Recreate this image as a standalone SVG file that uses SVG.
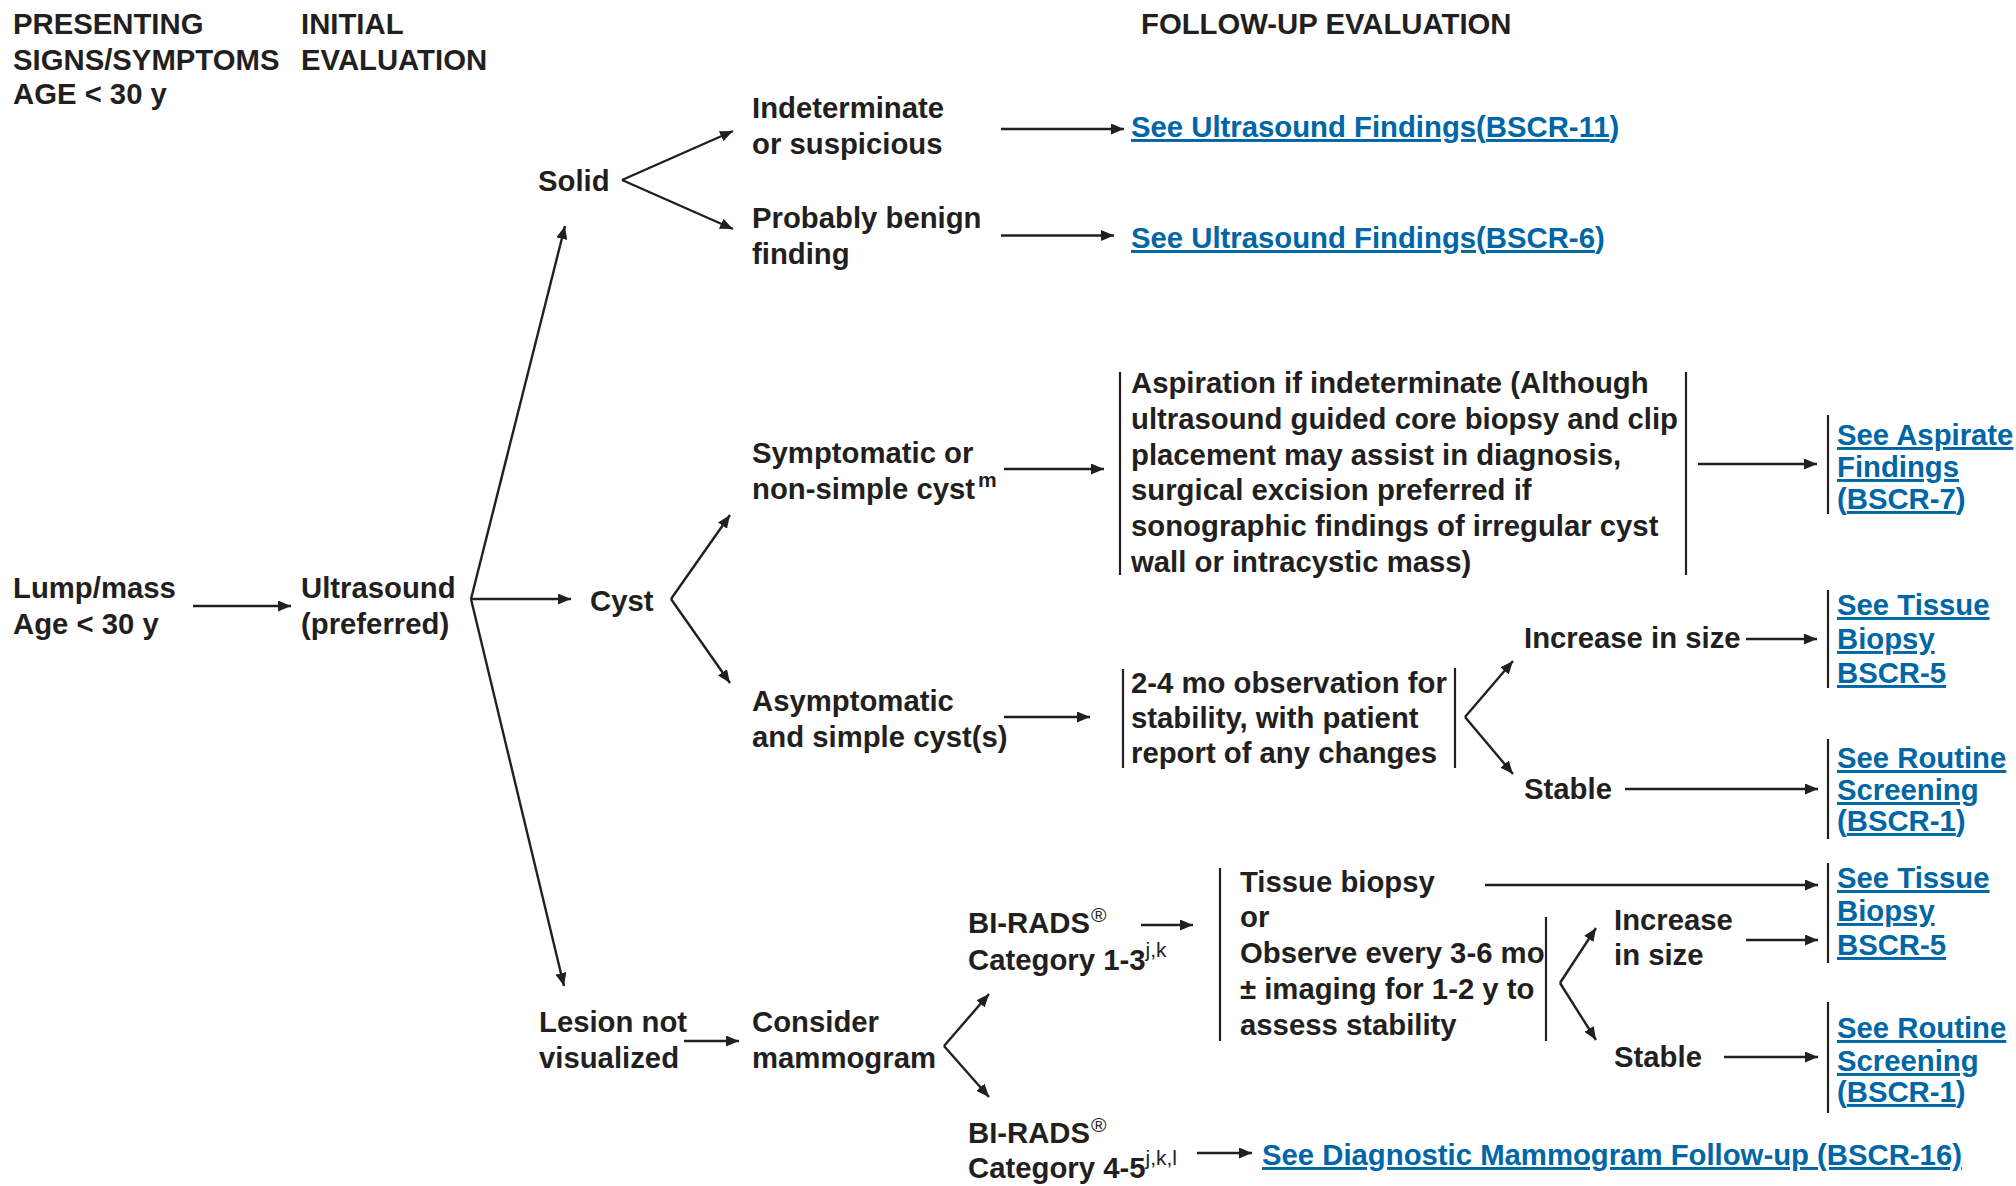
<svg xmlns="http://www.w3.org/2000/svg" width="2016" height="1186" viewBox="0 0 2016 1186">
  <defs>
    <style>
      text { font-family: "Liberation Sans", Arial, sans-serif; font-size: 29.3px; font-weight: bold; fill: #231f20; }
      text.lnk { fill: #0066a6; }
      tspan.u { text-decoration: underline; text-decoration-thickness: 2.4px; text-underline-offset: 3px; }
      tspan.sup { font-size: 21px; }
      tspan.supn { font-size: 21px; font-weight: normal; }
      .ln { stroke: #231f20; stroke-width: 2.4; fill: none; }
      .br { stroke: #231f20; stroke-width: 2.2; fill: none; }
      .ar { marker-end: url(#ah); }
    </style>
    <marker id="ah" viewBox="0 0 13 11" refX="13" refY="5.5" markerWidth="13" markerHeight="11" orient="auto" markerUnits="userSpaceOnUse">
      <path d="M0,0 L13,5.5 L0,11 z" fill="#231f20"/>
    </marker>
  </defs>
  <rect width="2016" height="1186" fill="#ffffff"/>

  <!-- column headings -->
  <g id="headings">
    <text x="13" y="34">PRESENTING</text>
    <text x="13" y="70">SIGNS/SYMPTOMS</text>
    <text x="13" y="104">AGE &lt; 30 y</text>
    <text x="301" y="34">INITIAL</text>
    <text x="301" y="70">EVALUATION</text>
    <text x="1141" y="34">FOLLOW-UP EVALUATION</text>
  </g>

  <!-- connectors -->
  <g id="connectors">
    <line class="ln ar" x1="193" y1="606" x2="291" y2="606"/>
    <line class="ln ar" x1="471" y1="599" x2="565" y2="226"/>
    <line class="ln ar" x1="471" y1="599" x2="571" y2="599"/>
    <line class="ln ar" x1="471" y1="599" x2="564" y2="986"/>
    <line class="ln ar" x1="622" y1="180" x2="733" y2="131"/>
    <line class="ln ar" x1="622" y1="180" x2="733" y2="229"/>
    <line class="ln ar" x1="1001" y1="129" x2="1124" y2="129"/>
    <line class="ln ar" x1="1001" y1="235.5" x2="1114" y2="235.5"/>
    <line class="ln ar" x1="671" y1="599" x2="730" y2="515"/>
    <line class="ln ar" x1="671" y1="599" x2="730" y2="683"/>
    <line class="ln ar" x1="1004" y1="469" x2="1104" y2="469"/>
    <line class="ln ar" x1="1698" y1="464" x2="1817" y2="464"/>
    <line class="ln ar" x1="1004" y1="717" x2="1090" y2="717"/>
    <line class="ln ar" x1="1465" y1="717" x2="1513" y2="661"/>
    <line class="ln ar" x1="1465" y1="717" x2="1513" y2="774"/>
    <line class="ln ar" x1="1746" y1="639" x2="1817" y2="639"/>
    <line class="ln ar" x1="1625" y1="789" x2="1818" y2="789"/>
    <line class="ln ar" x1="684" y1="1041" x2="739" y2="1041"/>
    <line class="ln ar" x1="944" y1="1046" x2="989" y2="994"/>
    <line class="ln ar" x1="944" y1="1046" x2="989" y2="1097"/>
    <line class="ln ar" x1="1141" y1="925" x2="1193" y2="925"/>
    <line class="ln ar" x1="1485" y1="885" x2="1818" y2="885"/>
    <line class="ln ar" x1="1560" y1="983" x2="1596" y2="928"/>
    <line class="ln ar" x1="1560" y1="983" x2="1596" y2="1040"/>
    <line class="ln ar" x1="1746" y1="940" x2="1818" y2="940"/>
    <line class="ln ar" x1="1724" y1="1057" x2="1818" y2="1057"/>
    <line class="ln ar" x1="1197" y1="1153" x2="1252" y2="1153"/>
  </g>

  <!-- decision nodes -->
  <g id="lump">
    <text x="13" y="598">Lump/mass</text>
    <text x="13" y="634">Age &lt; 30 y</text>
  </g>
  <g id="ultrasound">
    <text x="301" y="598">Ultrasound</text>
    <text x="301" y="634">(preferred)</text>
  </g>
  <g id="solid">
    <text x="538" y="191">Solid</text>
  </g>
  <g id="indeterminate">
    <text x="752" y="118">Indeterminate</text>
    <text x="752" y="154">or suspicious</text>
  </g>
  <g id="probably-benign">
    <text x="752" y="228">Probably benign</text>
    <text x="752" y="264">finding</text>
  </g>
  <g id="link-bscr11">
    <text class="lnk" x="1131" y="137"><tspan class="u">See Ultrasound Findings</tspan>(<tspan class="u">BSCR-11</tspan>)</text>
  </g>
  <g id="link-bscr6">
    <text class="lnk" x="1131" y="248"><tspan class="u">See Ultrasound Findings</tspan>(<tspan class="u">BSCR-6</tspan>)</text>
  </g>
  <g id="cyst">
    <text x="590" y="611">Cyst</text>
  </g>
  <g id="symptomatic">
    <text x="752" y="463">Symptomatic or</text>
    <text x="752" y="499">non-simple cyst<tspan class="sup" dx="3" dy="-12">m</tspan></text>
  </g>
  <g id="aspiration">
    <line class="br" x1="1120" y1="372" x2="1120" y2="575"/>
    <line class="br" x1="1686" y1="372" x2="1686" y2="575"/>
    <text x="1131" y="393">Aspiration if indeterminate (Although</text>
    <text x="1131" y="428.8">ultrasound guided core biopsy and clip</text>
    <text x="1131" y="464.6">placement may assist in diagnosis,</text>
    <text x="1131" y="500.4">surgical excision preferred if</text>
    <text x="1131" y="536.2">sonographic findings of irregular cyst</text>
    <text x="1131" y="572">wall or intracystic mass)</text>
  </g>
  <g id="link-bscr7">
    <line class="br" x1="1828" y1="415" x2="1828" y2="514"/>
    <text class="lnk" x="1837" y="445"><tspan class="u">See Aspirate</tspan></text>
    <text class="lnk" x="1837" y="477"><tspan class="u">Findings</tspan></text>
    <text class="lnk" x="1837" y="509">(<tspan class="u">BSCR-7</tspan>)</text>
  </g>
  <g id="asymptomatic">
    <text x="752" y="711">Asymptomatic</text>
    <text x="752" y="747">and simple cyst(s)</text>
  </g>
  <g id="observation">
    <line class="br" x1="1123" y1="669" x2="1123" y2="768"/>
    <line class="br" x1="1455" y1="668" x2="1455" y2="768"/>
    <text x="1131" y="693">2-4 mo observation for</text>
    <text x="1131" y="728">stability, with patient</text>
    <text x="1131" y="763">report of any changes</text>
  </g>
  <g id="increase-1">
    <text x="1524" y="648">Increase in size</text>
  </g>
  <g id="stable-1">
    <text x="1524" y="799">Stable</text>
  </g>
  <g id="link-bscr5-a">
    <line class="br" x1="1828" y1="590" x2="1828" y2="688"/>
    <text class="lnk" x="1837" y="615"><tspan class="u">See Tissue</tspan></text>
    <text class="lnk" x="1837" y="649"><tspan class="u">Biopsy</tspan></text>
    <text class="lnk" x="1837" y="683"><tspan class="u">BSCR-5</tspan></text>
  </g>
  <g id="link-bscr1-a">
    <line class="br" x1="1828" y1="739" x2="1828" y2="839"/>
    <text class="lnk" x="1837" y="768"><tspan class="u">See Routine</tspan></text>
    <text class="lnk" x="1837" y="800"><tspan class="u">Screening</tspan></text>
    <text class="lnk" x="1837" y="831">(<tspan class="u">BSCR-1</tspan>)</text>
  </g>
  <g id="lesion">
    <text x="539" y="1032">Lesion not</text>
    <text x="539" y="1068">visualized</text>
  </g>
  <g id="mammogram">
    <text x="752" y="1032">Consider</text>
    <text x="752" y="1068">mammogram</text>
  </g>
  <g id="birads-1-3">
    <text x="968" y="933">BI-RADS<tspan class="supn" dx="1" dy="-11">®</tspan></text>
    <text x="968" y="970">Category 1-3<tspan class="supn" dy="-13">j,k</tspan></text>
  </g>
  <g id="biopsy-or-observe">
    <line class="br" x1="1220" y1="868" x2="1220" y2="1041"/>
    <line class="br" x1="1546" y1="917" x2="1546" y2="1041"/>
    <text x="1240" y="892">Tissue biopsy</text>
    <text x="1240" y="927">or</text>
    <text x="1240" y="963">Observe every 3-6 mo</text>
    <text x="1240" y="999">± imaging for 1-2 y to</text>
    <text x="1240" y="1035">assess stability</text>
  </g>
  <g id="increase-2">
    <text x="1614" y="930">Increase</text>
    <text x="1614" y="965">in size</text>
  </g>
  <g id="stable-2">
    <text x="1614" y="1067">Stable</text>
  </g>
  <g id="link-bscr5-b">
    <line class="br" x1="1828" y1="863" x2="1828" y2="963"/>
    <text class="lnk" x="1837" y="888"><tspan class="u">See Tissue</tspan></text>
    <text class="lnk" x="1837" y="921"><tspan class="u">Biopsy</tspan></text>
    <text class="lnk" x="1837" y="955"><tspan class="u">BSCR-5</tspan></text>
  </g>
  <g id="link-bscr1-b">
    <line class="br" x1="1828" y1="1002" x2="1828" y2="1113"/>
    <text class="lnk" x="1837" y="1038"><tspan class="u">See Routine</tspan></text>
    <text class="lnk" x="1837" y="1071"><tspan class="u">Screening</tspan></text>
    <text class="lnk" x="1837" y="1102">(<tspan class="u">BSCR-1</tspan>)</text>
  </g>
  <g id="birads-4-5">
    <text x="968" y="1143">BI-RADS<tspan class="supn" dx="1" dy="-11">®</tspan></text>
    <text x="968" y="1178">Category 4-5<tspan class="supn" dy="-13">j,k,l</tspan></text>
  </g>
  <g id="link-bscr16">
    <text class="lnk" x="1262" y="1165"><tspan class="u">See Diagnostic Mammogram Follow-up (BSCR-16)</tspan></text>
  </g>
</svg>
